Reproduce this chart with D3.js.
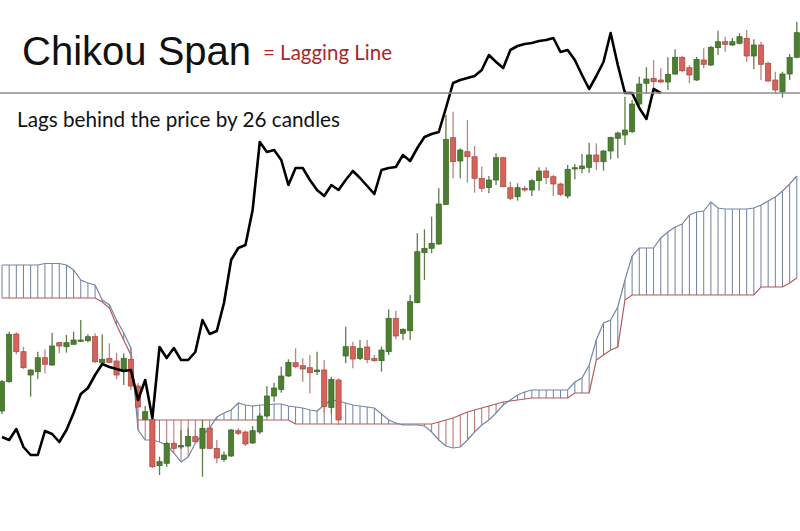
<!DOCTYPE html>
<html>
<head>
<meta charset="utf-8">
<script src="https://cdn.jsdelivr.net/npm/d3@7"></script>
<style>
  html, body { margin: 0; padding: 0; background: #fff; }
  svg { display: block; }
</style>
</head>
<body>
<svg id="chart" width="800" height="531"></svg>
<script>
// candle prices, one entry per bar (index 0..111)
const opens = [
  120,149.3,197,179.3,156,159.3,173.3,166,188.3,184.3,
  186.7,189.7,190.3,194.3,168.3,172.7,170,159.3,171.7,145,
  111.7,111.7,65.3,67.7,87.7,84,85,94.3,82.7,103,
  82.7,71.5,75,100.3,99,88,99,115,135,141.5,
  155,168.3,165.3,163.3,159.3,161,123.5,151,175,184.3,
  172.5,184,172.7,170.3,179.3,212.7,197.7,200.3,228.3,278.3,
  282.7,287,326.5,393.3,370,379.3,374.3,352.7,343.3,351,
  373.3,343.3,334.3,342.7,341,350.3,360,354.3,347,335,
  362,362.3,363.7,376,369.3,380,392.7,396,399.3,427,
  447.7,452.7,451,449,457,473.7,463.3,451,471,466,
  483.3,489.3,486,487.7,492.7,475,486,467.7,451,439.3,
  457,473.7
];
const highs = [
  151,199.3,198.7,184.3,161.7,179.3,181.7,198.3,189,196,
  199.3,211,196.7,197.7,196.7,187.7,178.3,177.7,178,148,
  125,112,74.3,89.3,89.3,101,102.7,101,111,104,
  91,79.3,102,102.7,100.3,105,117.7,145,148.3,164.3,
  171.7,182.7,172.7,176,179.3,171,154.3,152.7,204.3,189.3,
  191,191,176,184.3,221.7,220.3,202.7,236,297.7,301.7,
  314.3,342.7,416,419.3,382.7,411,385,364.3,355,377.7,
  374.3,349.3,347.7,345,351.7,363.7,363.7,356,348.3,366,
  367,377,388.3,387.7,381,394.3,399.3,434.3,431,454.3,
  463.7,471,462.7,473.7,481.7,475,466,474,482.7,485,
  500.3,494.3,493,497.7,501,491.7,489.3,469.3,459.3,459.3,
  477,509.3
];
const lows = [
  117,148.3,176.7,162,134.3,152,157.7,165.3,177.7,178.3,
  186.7,189.3,188.7,167.7,167.7,167.7,151.7,146,141,114.3,
  111,63,56,64.3,82,82,84.3,88.3,54.3,82,
  67.7,69.3,74,96,85,87,97,114,129.3,138.3,
  154,162.7,149.3,137.7,156,117.7,117.7,106,167.7,162.7,
  171,167.7,169.3,159.3,176,191.7,191,191,227.7,251,
  277.7,286,326,352.7,352.7,348.3,338.3,339.3,337.7,346,
  343.7,331,330.3,339.3,335,340.3,347,335,335,332.7,
  351.7,357.7,358.3,361,360.3,371.7,372.7,386,398,425,
  437,436,448,441,456,459,447.7,450,462.7,465,
  476,479.3,485,486.7,469.3,461.7,451,449,437.7,433.3,
  451,472.7
];
const closes = [
  149.3,196.7,179.3,163.3,161,173.3,166.7,185,185,188.3,
  191,191,194.3,169.3,171.7,168.7,156,172.7,145,124,
  119.3,64.3,69.3,87.7,82.7,85.5,94.5,89.3,102.7,82.7,
  73,76,101,97.7,87,100.3,115,135,143,155,
  168.7,164.3,162,158.3,161,124.5,151.7,111,184.3,172,
  182.7,171.5,170.3,181,212.7,195,201.7,229.3,279.3,282.7,
  287.7,327,391.7,369.3,381,374.3,352.7,342.7,351,373.3,
  344.3,332.7,343.3,341,350.3,360,353.7,347,336.7,361.7,
  363.3,365,376,369.3,380,393.7,398,401,427,447,
  452,449.3,449,456.7,473.7,460.3,456,471.7,466.7,483.7,
  489.3,486.7,489.3,494.3,475,486,466.7,450,441,457,
  473.7,498.3
];

// cloud: leading span A (blue) and leading span B (red)
const spanA = [
  266,266,266,266,266,266,267.5,267.5,267.5,266,
  261,251,248,246,231,226,211,198,183,101,
  91,91,89,86,78,69,74,88,96,103,
  114,118,121,128,126,125,126,126,127,127,
  125,124,123,121,120,126,131,130,128,126,
  125,124,123,117,111,108,106,106,106,105,
  99,91,85,83,84,91,99,106,111,118,
  126,131,136,139,141,141,141,141,141,141,
  149,153,166,191,208,211,224,251,275,283,
  283,283,293,299,304,307,316,319,320,329,
  323,322,322,322,322,323,326,330,334,340,
  347,355
];
const spanB = [
  233,233,233,233,233,233,233,233,233,233,
  233,233,233,233,229,223,206,191,176,111,
  111,111,111,111,111,111,111,111,111,111,
  111,111,111,111,111,111,111,111,111,111,
  111,107,107,107,107,107,107,107,107,107,
  107,107,107,107,107,107,107,107,107,107,
  107,109,111,113,116,119,121,123,125,127,
  129,130,131,132,133,133,133,133,133,133,
  138,138,138,171,176,181,184,231,236,236,
  236,236,236,236,236,236,236,236,236,236,
  236,236,236,236,236,236,244,244,244,244,
  248,253
];

// lagging line (close plotted back), index 0..92
const chikou = [
  94,91,102,84,76,76,100,97,89,101,
  118,137,143,156,167,164,162,160,161,131,
  151,113,184,173,183,171,171,179,211,197,
  200,228,271,283,286,321,389,379,381,371,
  346,363,363,351,341,335,346,341,351,360,
  353,345,337,361,363,364,376,370,383,394,
  397,399,423,448,451,453,455,461,476,469,
  463,481,485,487,488,490,491,493,479,481,
  471,456,442,455,469,498,466,438,438,423,
  412,442,438
];

const refLevel = 438;

const width = 800, height = 531;
const svg = d3.select('#chart');

svg.append('rect').attr('width', width).attr('height', height).attr('fill', '#fff');

const xScale = d3.scaleLinear().domain([0, opens.length - 1]).range([2, 796.8]);
const yScale = d3.scaleLinear().domain([0, 531]).range([height, 0]);

const bars = opens.map((o, i) => ({
  i: i, open: o, high: highs[i], low: lows[i], close: closes[i],
  a: spanA[i], b: spanB[i]
}));

// cloud hatching
svg.append('g')
  .selectAll('line')
  .data(bars)
  .join('line')
  .attr('x1', d => xScale(d.i))
  .attr('x2', d => xScale(d.i))
  .attr('y1', d => yScale(d.a))
  .attr('y2', d => yScale(d.b))
  .attr('stroke', d => d.a >= d.b ? '#6f81a0' : '#b86c6c')
  .attr('stroke-width', 1);

const spanLine = key => d3.line()
  .x(d => xScale(d.i))
  .y(d => yScale(d[key]));

svg.append('path')
  .datum(bars)
  .attr('fill', 'none')
  .attr('stroke', '#b35a5a')
  .attr('stroke-width', 1.2)
  .attr('d', spanLine('b'));

svg.append('path')
  .datum(bars)
  .attr('fill', 'none')
  .attr('stroke', '#7486a6')
  .attr('stroke-width', 1.2)
  .attr('d', spanLine('a'));

// candles
const candle = svg.append('g')
  .selectAll('g')
  .data(bars)
  .join('g');

candle.append('line')
  .attr('x1', d => xScale(d.i))
  .attr('x2', d => xScale(d.i))
  .attr('y1', d => yScale(d.high))
  .attr('y2', d => yScale(d.low))
  .attr('stroke', d => d.close >= d.open ? '#5f7d4a' : '#b98585')
  .attr('stroke-width', 1.3);

candle.append('rect')
  .attr('x', d => xScale(d.i) - 2.6)
  .attr('width', 5.2)
  .attr('y', d => yScale(Math.max(d.open, d.close)))
  .attr('height', d => Math.max(1.2, Math.abs(yScale(d.open) - yScale(d.close))))
  .attr('fill', d => d.close >= d.open ? '#4c8030' : '#d8625a')
  .attr('stroke', d => d.close >= d.open ? '#3a6426' : '#9c4a44')
  .attr('stroke-width', 0.7);

// chikou span
svg.append('path')
  .datum(chikou)
  .attr('fill', 'none')
  .attr('stroke', '#000')
  .attr('stroke-width', 2.6)
  .attr('stroke-linejoin', 'round')
  .attr('d', d3.line().x((d, i) => xScale(i)).y(d => yScale(d)));

// reference level line
svg.append('line')
  .attr('x1', 0)
  .attr('x2', width)
  .attr('y1', yScale(refLevel))
  .attr('y2', yScale(refLevel))
  .attr('stroke', '#8c8c8c')
  .attr('stroke-width', 1.3);

// labels
svg.append('text')
  .attr('x', 22)
  .attr('y', 65)
  .attr('font-family', '"Liberation Sans", Arial, sans-serif')
  .attr('font-size', 40)
  .attr('fill', '#111')
  .text('Chikou Span');

svg.append('text')
  .attr('x', 263)
  .attr('y', 60)
  .attr('font-family', 'Lato, "Open Sans", sans-serif')
  .attr('font-size', 22)
  .attr('fill', '#a8282a')
  .attr('textLength', 129)
  .attr('lengthAdjust', 'spacingAndGlyphs')
  .text('= Lagging Line');

svg.append('text')
  .attr('x', 17)
  .attr('y', 127)
  .attr('font-family', 'Lato, "Open Sans", sans-serif')
  .attr('font-size', 22)
  .attr('fill', '#111')
  .attr('textLength', 323)
  .attr('lengthAdjust', 'spacingAndGlyphs')
  .text('Lags behind the price by 26 candles');
</script>
</body>
</html>
